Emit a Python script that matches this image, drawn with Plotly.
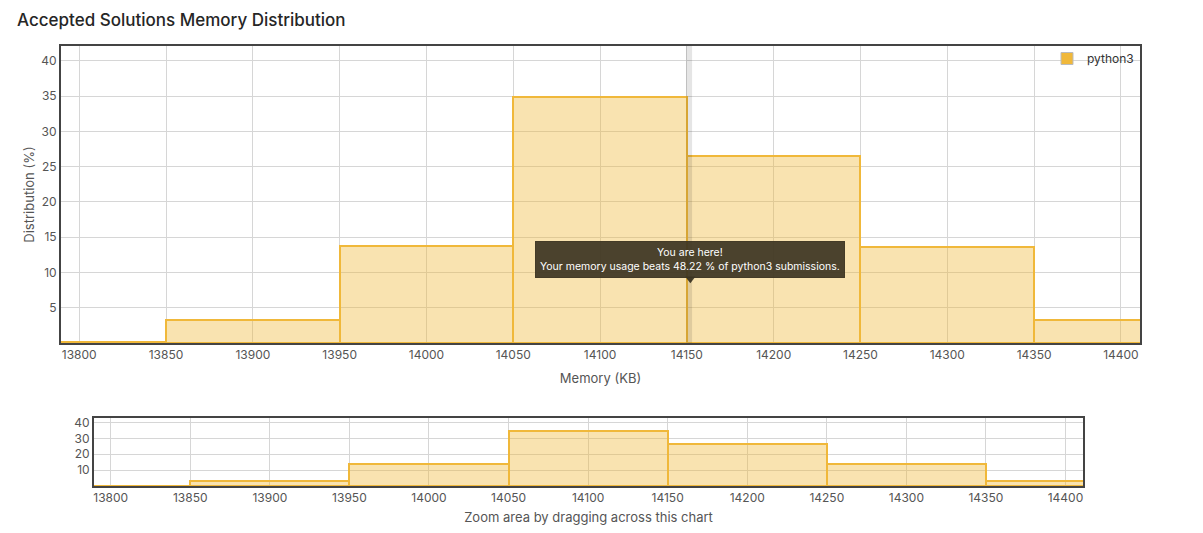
import plotly.graph_objects as go

# ---- data ----
bin_centers = [13800, 13900, 14000, 14100, 14200, 14300, 14400]
distribution = [0.2, 3.2, 13.8, 34.9, 26.5, 13.6, 3.3]
bin_width = 100
series_name = "python3"
my_memory = 14152
beats_pct = 48.22
x_ticks = [13800, 13850, 13900, 13950, 14000, 14050, 14100, 14150, 14200, 14250, 14300, 14350, 14400]
y_ticks_main = [5, 10, 15, 20, 25, 30, 35, 40]
y_ticks_nav = [10, 20, 30, 40]

OFF = 8  # page body margin
W, H = 1203 - 2 * OFF, 533 - 2 * OFF


def px_x(p):
    return (p - OFF) / W


def px_y(p):
    return 1 - (p - OFF) / H


FILL = "rgba(240,184,58,0.40)"
EDGE = "#f0b83a"
FONT = "Inter, Roboto, 'Liberation Sans', sans-serif"
TICK_COLOR = "#555555"
GRID = "#d6d6d6"
BORDER = "#444444"

fig = go.Figure()

for xa, ya in (("x", "y"), ("x2", "y2")):
    fig.add_trace(go.Bar(
        x=bin_centers, y=distribution, width=[bin_width] * len(bin_centers),
        marker=dict(color=FILL, line=dict(color=EDGE, width=2)),
        xaxis=xa, yaxis=ya, showlegend=False, hoverinfo="skip",
    ))

# legend-only entry
fig.add_trace(go.Scatter(
    x=[None], y=[None], mode="markers", name=series_name,
    marker=dict(symbol="square", size=12, color=EDGE, line=dict(color="#bbbbbb", width=1)),
    xaxis="x", yaxis="y", showlegend=True,
))

# tooltip pointer triangle
fig.add_trace(go.Scatter(
    x=[my_memory], y=[9.1], mode="markers",
    marker=dict(symbol="triangle-down", size=9, color="rgba(60,52,34,0.92)", line=dict(width=0)),
    xaxis="x", yaxis="y", showlegend=False, hoverinfo="skip",
))

xr = [13789.5, 14411]
axis_common = dict(
    showline=True, mirror=True, linecolor=BORDER, linewidth=2,
    showgrid=True, gridcolor=GRID, gridwidth=1, zeroline=False,
    tickfont=dict(family=FONT, size=12, color=TICK_COLOR),
    ticks="", fixedrange=True, automargin=False,
)

fig.update_layout(
    width=W, height=H,
    margin=dict(l=0, r=0, t=0, b=0, autoexpand=False),
    paper_bgcolor="white", plot_bgcolor="white",
    barmode="overlay", bargap=0,
    font=dict(family=FONT, color="#333333"),
    xaxis=dict(domain=[px_x(61), px_x(1140)], range=xr, anchor="y",
               tickvals=x_ticks, ticktext=[str(v) for v in x_ticks],
               title=dict(text="Memory (KB)", font=dict(family=FONT, size=13, color="#555555"), standoff=12),
               **axis_common),
    yaxis=dict(domain=[px_y(343), px_y(46)], range=[0, 42.1], anchor="x",
               tickvals=y_ticks_main,
               title=dict(text="Distribution (%)", font=dict(family=FONT, size=13, color="#555555"), standoff=4),
               **axis_common),
    xaxis2=dict(domain=[px_x(94), px_x(1083)], range=xr, anchor="y2",
                tickvals=x_ticks, ticktext=[str(v) for v in x_ticks],
                title=dict(text="Zoom area by dragging across this chart",
                           font=dict(family=FONT, size=13, color="#555555"), standoff=14),
                **axis_common),
    yaxis2=dict(domain=[px_y(486), px_y(418)], range=[0, 42.8], anchor="x2",
                tickvals=y_ticks_nav, **axis_common),
    legend=dict(x=px_x(1139), y=px_y(44), xanchor="right", yanchor="top",
                bgcolor="rgba(0,0,0,0)", font=dict(family=FONT, size=12, color="#333333"),
                itemwidth=30, tracegroupgap=0),
    showlegend=True,
)

# "you are here" band
fig.add_shape(type="rect", xref="x", yref="paper",
              x0=my_memory - 2.5, x1=my_memory + 1.0,
              y0=px_y(343), y1=px_y(46),
              fillcolor="rgba(0,0,0,0.10)", line=dict(width=0), layer="above")

# tooltip
fig.add_annotation(
    x=my_memory, y=11.9, xref="x", yref="y", showarrow=False,
    text=f"You are here!<br>Your memory usage beats {beats_pct} % of {series_name} submissions.",
    font=dict(family=FONT, size=10.5, color="white"), align="center",
    bgcolor="rgba(60,52,34,0.92)", borderpad=4,
    bordercolor="rgba(60,52,34,0.92)", borderwidth=1,
)

# chart title
fig.add_annotation(
    x=px_x(15), y=px_y(20), xref="paper", yref="paper", xanchor="left", yanchor="middle",
    showarrow=False, text="Accepted Solutions Memory Distribution",
    font=dict(family=FONT, size=17, color="#262626", weight=500),
)

fig.write_html("out.html")
